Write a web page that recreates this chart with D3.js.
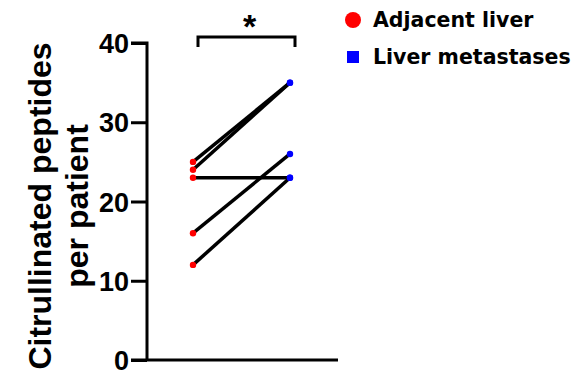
<!DOCTYPE html>
<html>
<head>
<meta charset="utf-8">
<script src="https://cdn.jsdelivr.net/npm/d3@7"></script>
<style>
  body { margin: 0; background: #fff; }
  svg { display: block; }
</style>
</head>
<body>
<svg id="chart" width="579" height="376"></svg>
<script>
// paired values, one entry per patient
const groups = ['Adjacent liver', 'Liver metastases'];
const adjacent = [25, 24, 23, 16, 12];
const metastases = [35, 35, 23, 26, 23];
const yTicks = [0, 10, 20, 30, 40];
const groupColors = ['#ff0000', '#0000ff'];

const svg = d3.select('#chart');
const axisFont = '"Liberation Sans", Arial, sans-serif';
const legendFont = '"DejaVu Sans", Verdana, sans-serif';

const y = d3.scaleLinear().domain([0, 40]).range([360, 43]);
const x = d3.scalePoint().domain(groups).range([193, 290]);

// axes
const yAxis = svg.append('g')
  .attr('transform', 'translate(147,0)')
  .call(d3.axisLeft(y).tickValues(yTicks).tickSize(16).tickPadding(2));
yAxis.select('.domain').attr('stroke-width', 3).attr('d', `M-16,${y(40)}H0V${y(0)}`);
yAxis.selectAll('.tick line').attr('stroke-width', 3);
yAxis.selectAll('.tick text')
  .attr('font-family', axisFont).attr('font-weight', 'bold')
  .attr('font-size', 27).attr('fill', '#000').attr('dy', '0.36em');

svg.append('line')
  .attr('x1', 131).attr('x2', 338)
  .attr('y1', y(0)).attr('y2', y(0))
  .attr('stroke', '#000').attr('stroke-width', 3);

// y title
const title = svg.append('text')
  .attr('transform', 'rotate(-90)')
  .attr('font-family', axisFont).attr('font-weight', 'bold')
  .attr('font-size', 32).attr('text-anchor', 'middle');
title.append('tspan').attr('x', -206).attr('y', 51).text('Citrullinated peptides');
title.append('tspan').attr('x', -206).attr('y', 88).text('per patient');

// paired lines
const pairs = adjacent.map((a, i) => [a, metastases[i]]);
svg.append('g').selectAll('line').data(pairs).join('line')
  .attr('x1', x(groups[0])).attr('x2', x(groups[1]))
  .attr('y1', d => y(d[0])).attr('y2', d => y(d[1]))
  .attr('stroke', '#000').attr('stroke-width', 3.5);

svg.append('g').selectAll('circle').data(adjacent).join('circle')
  .attr('cx', x(groups[0])).attr('cy', d => y(d)).attr('r', 3.2)
  .attr('fill', groupColors[0]);
svg.append('g').selectAll('circle').data(metastases).join('circle')
  .attr('cx', x(groups[1])).attr('cy', d => y(d)).attr('r', 3.2)
  .attr('fill', groupColors[1]);

// significance bracket
const bx0 = x(groups[0]) + 5, bx1 = x(groups[1]) + 5;
svg.append('path')
  .attr('d', `M${bx0},47V37H${bx1}V47`)
  .attr('fill', 'none').attr('stroke', '#000').attr('stroke-width', 3);
svg.append('text')
  .attr('x', (bx0 + bx1) / 2 + 3).attr('y', 38)
  .attr('text-anchor', 'middle')
  .attr('font-family', axisFont).attr('font-weight', 'bold').attr('font-size', 34)
  .text('*');

// legend
const legend = svg.append('g').attr('font-family', legendFont)
  .attr('font-weight', 'bold').attr('font-size', 20.5);
legend.append('circle').attr('cx', 353).attr('cy', 20).attr('r', 8).attr('fill', groupColors[0]);
legend.append('rect').attr('x', 347).attr('y', 51).attr('width', 12).attr('height', 12).attr('fill', groupColors[1]);
legend.selectAll('text').data(groups).join('text')
  .attr('x', 373).attr('y', (d, i) => 27 + i * 37)
  .text(d => d);
</script>
</body>
</html>
